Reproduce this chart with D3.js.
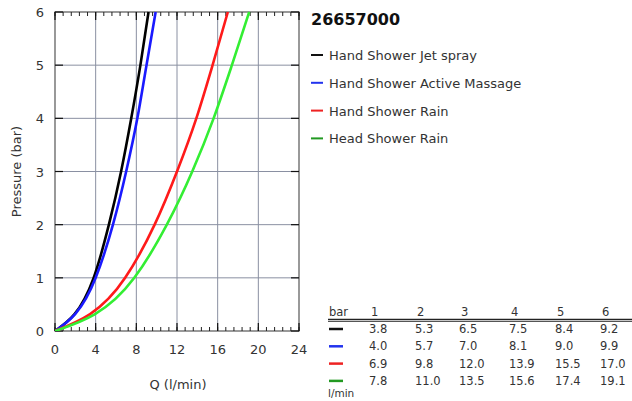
<!DOCTYPE html>
<html><head><meta charset="utf-8">
<script src="https://cdn.jsdelivr.net/npm/d3@7"></script>
<style>body{margin:0;background:#fff;} svg{display:block;font-family:"DejaVu Sans",sans-serif;}</style>
</head><body>
<svg id="c" width="632" height="401"></svg>
<script>
const title = "26657000";
const pressures = [1, 2, 3, 4, 5, 6];
const seriesNames = ["Hand Shower Jet spray", "Hand Shower Active Massage", "Hand Shower Rain", "Head Shower Rain"];
const jetSpray = [3.8, 5.3, 6.5, 7.5, 8.4, 9.2];
const activeMassage = [4.0, 5.7, 7.0, 8.1, 9.0, 9.9];
const handRain = [6.9, 9.8, 12.0, 13.9, 15.5, 17.0];
const headRain = [7.8, 11.0, 13.5, 15.6, 17.4, 19.1];
const xTicks = [0, 4, 8, 12, 16, 20, 24];
const yTicks = [0, 1, 2, 3, 4, 5, 6];
const lineColors = ["#000000", "#1a1aff", "#ff1a1a", "#33ee33"];
const legendColors = ["#111111", "#2233ee", "#ee2222", "#229922"];

const allSeries = [jetSpray, activeMassage, handRain, headRain];
const svg = d3.select("#c");
const L = 55, R = 299, T = 12, B = 331;
const x = d3.scaleLinear().domain([0, 24]).range([L, R]);
const y = d3.scaleLinear().domain([0, 6]).range([B, T]);

// grid
const g = svg.append("g");
g.selectAll(".vg").data(xTicks.slice(1, -1)).join("line")
  .attr("x1", d => x(d)).attr("x2", d => x(d)).attr("y1", T).attr("y2", B)
  .attr("stroke", "#8a90a2").attr("stroke-width", 1);
g.selectAll(".hg").data(yTicks.slice(1, -1)).join("line")
  .attr("x1", L).attr("x2", R).attr("y1", d => y(d)).attr("y2", d => y(d))
  .attr("stroke", "#8a90a2").attr("stroke-width", 1);

// frame
svg.append("rect").attr("x", L).attr("y", T).attr("width", R - L).attr("height", B - T)
  .attr("fill", "none").attr("stroke", "#555").attr("stroke-width", 1.2);

// minor + major ticks on x (bottom & top)
const minor = d3.range(0, 24.01, 0.8);
svg.append("g").selectAll("line").data(minor).join("line")
  .attr("x1", d => x(d)).attr("x2", d => x(d)).attr("y1", B).attr("y2", B - 4)
  .attr("stroke", "#222").attr("stroke-width", 1);
svg.append("g").selectAll("line").data(minor).join("line")
  .attr("x1", d => x(d)).attr("x2", d => x(d)).attr("y1", T).attr("y2", T + 4)
  .attr("stroke", "#222").attr("stroke-width", 1);
svg.append("g").selectAll("line").data(xTicks).join("line")
  .attr("x1", d => x(d)).attr("x2", d => x(d)).attr("y1", B).attr("y2", B - 8)
  .attr("stroke", "#111").attr("stroke-width", 1.2);
svg.append("g").selectAll("line").data(xTicks).join("line")
  .attr("x1", d => x(d)).attr("x2", d => x(d)).attr("y1", T).attr("y2", T + 8)
  .attr("stroke", "#111").attr("stroke-width", 1.2);
// y major ticks left & right
svg.append("g").selectAll("line").data(yTicks).join("line")
  .attr("x1", L).attr("x2", L + 8).attr("y1", d => y(d)).attr("y2", d => y(d))
  .attr("stroke", "#111").attr("stroke-width", 1.2);
svg.append("g").selectAll("line").data(yTicks).join("line")
  .attr("x1", R - 8).attr("x2", R).attr("y1", d => y(d)).attr("y2", d => y(d))
  .attr("stroke", "#111").attr("stroke-width", 1.2);

// tick labels
svg.append("g").selectAll("text").data(xTicks).join("text")
  .attr("x", d => x(d)).attr("y", B + 23).attr("text-anchor", "middle")
  .attr("font-size", 13).attr("fill", "#333").text(d => d);
svg.append("g").selectAll("text").data(yTicks).join("text")
  .attr("x", L - 11).attr("y", d => y(d) + 5).attr("text-anchor", "end")
  .attr("font-size", 13).attr("fill", "#333").text(d => d);

svg.append("text").attr("x", x(12) + 1).attr("y", 389).attr("text-anchor", "middle")
  .attr("font-size", 13).attr("fill", "#333").text("Q (l/min)");
svg.append("text").attr("transform", `translate(21,${(T + B) / 2}) rotate(-90)`)
  .attr("text-anchor", "middle").attr("font-size", 13).attr("fill", "#333").text("Pressure (bar)");

// curves
svg.append("defs").append("clipPath").attr("id", "clip").append("rect")
  .attr("x", L).attr("y", T - 1).attr("width", R - L).attr("height", B - T + 1);
const line = d3.line().x(d => x(d[0])).y(d => y(d[1])).curve(d3.curveMonotoneX);
allSeries.forEach((s, i) => {
  const pts = [[0, 0]].concat(s.map((q, j) => [q, pressures[j]]));
  svg.append("path").attr("d", line(pts)).attr("fill", "none")
    .attr("stroke", lineColors[i]).attr("stroke-width", 2.6).attr("clip-path", "url(#clip)");
});

// title & legend
svg.append("text").attr("x", 311).attr("y", 25).attr("font-size", 16).attr("font-weight", "bold")
  .attr("fill", "#111").text(title);
seriesNames.forEach((n, i) => {
  const cy = 55 + i * 27.8;
  svg.append("line").attr("x1", 311).attr("x2", 323).attr("y1", cy).attr("y2", cy)
    .attr("stroke", legendColors[i]).attr("stroke-width", 2);
  svg.append("text").attr("x", 329).attr("y", cy + 5).attr("font-size", 13).attr("fill", "#333").text(n);
});

// table
const colX = [371, 417, 461, 511, 557, 602];
const tbl = svg.append("g").attr("font-size", 11.5).attr("fill", "#333");
tbl.append("text").attr("x", 329).attr("y", 316).text("bar");
pressures.forEach((p, j) => tbl.append("text").attr("x", colX[j]).attr("y", 316).text(p));
svg.append("line").attr("x1", 328).attr("x2", 632).attr("y1", 319.5).attr("y2", 319.5).attr("stroke", "#222").attr("stroke-width", 1.5);
svg.append("line").attr("x1", 328).attr("x2", 632).attr("y1", 321.5).attr("y2", 321.5).attr("stroke", "#555").attr("stroke-width", 1);
allSeries.forEach((s, i) => {
  const ry = 333 + i * 17.3;
  svg.append("line").attr("x1", 329).attr("x2", 343).attr("y1", ry - 4).attr("y2", ry - 4)
    .attr("stroke", legendColors[i]).attr("stroke-width", 2.5);
  s.forEach((v, j) => tbl.append("text").attr("x", colX[j] - 2).attr("y", ry).text(v.toFixed(1)));
});
tbl.append("text").attr("x", 328).attr("y", 397).attr("font-size", 10.5).text("l/min");
</script>
</body></html>
